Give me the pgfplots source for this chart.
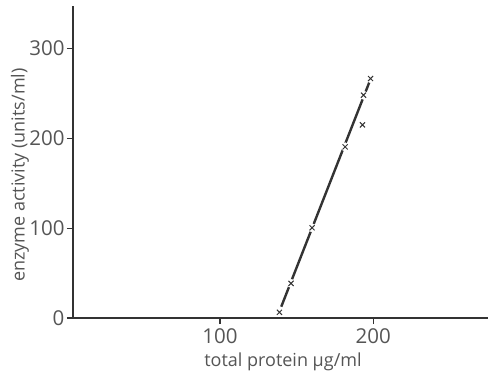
\documentclass[border=0pt]{standalone}
\usepackage{fontspec}
\setmainfont{Open Sans}
\usepackage{pgfplots}
\pgfplotsset{compat=1.18}
\definecolor{ink}{HTML}{333333}
\definecolor{txt}{HTML}{555555}
\begin{document}
\begin{tikzpicture}
\path[use as bounding box] (0,0) rectangle (488pt,373pt);
\begin{axis}[
  at={(73pt,55pt)}, anchor=south west,
  scale only axis, width=415pt, height=312pt,
  xmin=4, xmax=275, ymin=0, ymax=347,
  axis x line=bottom, axis y line=left,
  axis line style={ink, line width=1.1pt, -},
  xtick={100,200}, ytick={0,100,200,300},
  tick align=outside, major tick length=6pt,
  tick style={ink, line width=1.1pt},
  /pgf/number format/assume math mode=true,
  ticklabel style={font=\fontsize{20.5}{20.5}\selectfont, text=txt},
  yticklabel style={xshift=1pt},
  xticklabel style={yshift=-1pt},
  xlabel={total protein µg/ml}, ylabel={enzyme activity (units/ml)},
  label style={font=\fontsize{18}{18}\selectfont, text=txt},
  xlabel style={at={(axis description cs:0.506,-0.154)}, anchor=base},
  ylabel style={at={(axis description cs:-0.128,0.458)}, anchor=center, rotate=0},
  clip=false,
]
% fitted line
\addplot[ink, line width=2.4pt] coordinates {(140,12.6) (197.6,262.6)};
% knock out the line around each measurement
\addplot[only marks, mark=*, mark size=4.2pt, white] table {
x y
138.8 6.3
146.4 38.5
160.1 100.3
181.7 190.3
193.0 214.8
193.7 247.8
198.3 266.3
};
% measurements
\addplot[only marks, mark=x, mark size=3.6pt, ink, mark options={line width=1pt}] table {
x y
138.8 6.3
146.4 38.5
160.1 100.3
181.7 190.3
193.0 214.8
193.7 247.8
198.3 266.3
};
\end{axis}
\end{tikzpicture}
\end{document}
